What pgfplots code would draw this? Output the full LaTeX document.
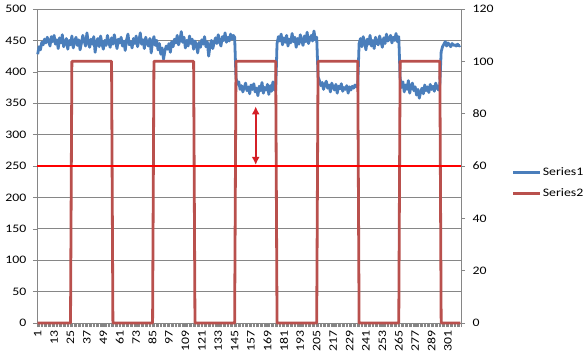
\documentclass[border=0pt]{standalone}
\usepackage{fontspec}
\setmainfont[FakeStretch=1.2]{Carlito}
\usepackage{pgfplots}
\pgfplotsset{compat=1.18}
\usepackage{pgfplotstable}
\usetikzlibrary{arrows.meta}
\definecolor{sone}{HTML}{4A7EBB}
\definecolor{stwo}{HTML}{B9504D}
\definecolor{axgray}{HTML}{868686}
\definecolor{arrowred}{HTML}{D42027}

\pgfplotstableread[row sep=\\]{y\\
428\\440\\435\\447\\443\\452\\446\\455\\449\\441\\
456\\448\\458\\444\\451\\437\\454\\446\\459\\440\\
447\\453\\436\\450\\443\\457\\438\\448\\455\\442\\
451\\435\\446\\458\\449\\441\\462\\447\\439\\452\\
444\\456\\431\\448\\453\\440\\457\\445\\436\\450\\
442\\458\\447\\439\\454\\444\\459\\448\\437\\452\\
446\\455\\441\\449\\434\\451\\460\\443\\448\\438\\
453\\445\\457\\440\\449\\462\\444\\451\\437\\455\\
446\\441\\453\\430\\448\\456\\442\\450\\435\\445\\
428\\438\\420\\433\\441\\436\\445\\431\\448\\440\\
452\\446\\458\\443\\451\\464\\447\\455\\438\\450\\
441\\457\\445\\452\\436\\449\\443\\430\\447\\439\\
451\\444\\456\\440\\448\\425\\441\\450\\437\\446\\
454\\445\\459\\448\\441\\456\\450\\462\\447\\455\\
449\\460\\452\\458\\455\\
390\\380\\384\\372\\378\\368\\375\\382\\370\\376\\
365\\379\\372\\381\\368\\374\\362\\377\\370\\383\\
366\\375\\371\\380\\364\\378\\369\\384\\372\\370\\
445\\456\\449\\460\\443\\454\\447\\458\\441\\452\\
446\\461\\448\\455\\439\\453\\444\\459\\450\\442\\
457\\448\\463\\445\\452\\458\\449\\465\\451\\455\\
392\\386\\378\\383\\372\\380\\385\\374\\379\\368\\
382\\376\\371\\380\\366\\377\\373\\381\\369\\375\\
372\\378\\366\\376\\371\\377\\374\\379\\376\\378\\
445\\453\\440\\456\\447\\435\\452\\444\\458\\441\\
450\\437\\455\\446\\443\\457\\448\\439\\454\\445\\
460\\449\\452\\458\\446\\455\\450\\461\\448\\456\\
390\\375\\384\\368\\379\\372\\386\\366\\378\\382\\
370\\376\\363\\372\\358\\368\\374\\365\\379\\370\\
376\\367\\380\\372\\377\\369\\382\\375\\371\\380\\
432\\440\\444\\448\\441\\446\\443\\440\\445\\442\\
443\\441\\444\\441\\442\\
}\seriesone

\newcommand\tickfont{\fontsize{11.5}{13}\selectfont}

\begin{document}
\begin{tikzpicture}
\useasboundingbox (-37pt,-39pt) rectangle (551pt,323pt);
\begin{axis}[
  at={(0pt,0pt)}, anchor=south west,
  scale only axis, width=424pt, height=314pt,
  xmin=0.5, xmax=310.5, ymin=0, ymax=500,
  axis lines*=left,
  axis line style={axgray, line width=0.8pt},
  ytick={0,50,...,500},
  ymajorgrids, grid style={axgray, line width=0.8pt},
  xtick={1,13,...,301},
  minor xtick={0.5,1.5,...,310.5},
  tick align=outside,
  major tick length=4pt, minor tick length=4pt,
  tick style={axgray, line width=0.6pt},
  ticklabel style={font=\tickfont, black},
  yticklabel style={xshift=-3pt},
  xticklabel style={rotate=90, anchor=east},
  /pgf/number format/assume math mode=true,
  clip=false,
]
\addplot[sone, line width=2.8pt, line join=round, mark=none]
  table[x expr=\coordindex+1, y=y] {\seriesone};
\end{axis}
\begin{axis}[
  at={(0pt,0pt)}, anchor=south west,
  scale only axis, width=424pt, height=314pt,
  xmin=0.5, xmax=310.5, ymin=0, ymax=120,
  axis y line*=right, axis x line=none,
  axis line style={axgray, line width=0.8pt},
  ytick={0,20,...,120},
  tick align=outside,
  major tick length=4pt,
  tick style={axgray, line width=0.6pt},
  ticklabel style={font=\tickfont, black},
  yticklabel style={xshift=4pt},
  /pgf/number format/assume math mode=true,
  legend style={at={(1.12,0.446)}, anchor=west, draw=none, fill=none,
    font=\tickfont, inner sep=0pt, row sep=10pt,
    nodes={inner sep=1pt, anchor=west}},
  legend cell align=left,
  legend image code/.code={\draw[#1] (0pt,0pt) -- (27pt,0pt);},
  clip=false,
]
\addlegendimage{sone, line width=2.5pt}
\addlegendentry{Series1}
\addplot[stwo, line width=2.8pt, line join=round, mark=none] coordinates {
(1,0)(25,0)(26,100)(55,100)(56,0)(85,0)(86,100)(115,100)(116,0)(145,0)
(146,100)(175,100)(176,0)(205,0)(206,100)(235,100)(236,0)(265,0)(266,100)
(295,100)(296,0)(310,0)};
\addlegendentry{Series2}
\addplot[red, line width=2.8pt, forget plot] coordinates {(0.5,60)(310.5,60)};
\addplot[arrowred, line width=1.8pt, forget plot,
  {Latex[length=8pt,width=8pt]}-{Latex[length=8pt,width=8pt]}]
  coordinates {(160.4,82.8)(160.4,60.4)};
\end{axis}
\end{tikzpicture}
\end{document}
